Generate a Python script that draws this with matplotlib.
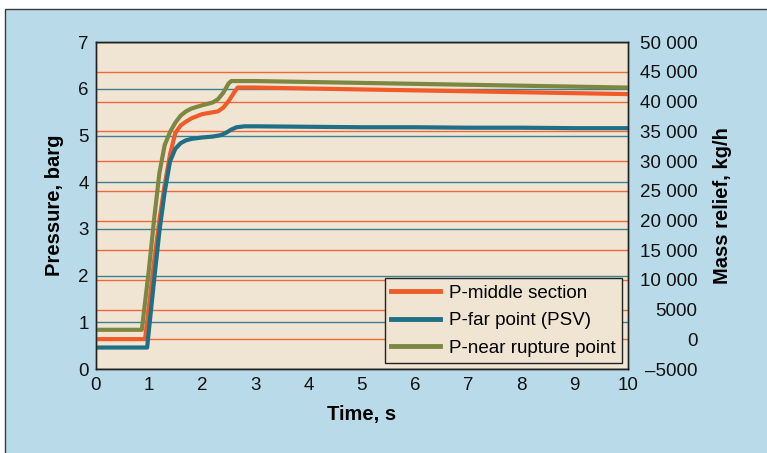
import matplotlib.pyplot as plt
from matplotlib.patches import Rectangle
from matplotlib.ticker import FixedLocator

plt.rcParams['font.family'] = ['Liberation Sans', 'DejaVu Sans']

# --- data ---
t_near = [0, 0.87, 1.0, 1.1, 1.2, 1.3, 1.4, 1.5, 1.6, 1.7, 1.8, 2.0, 2.2, 2.3, 2.4, 2.5, 2.55,
          3, 4, 5, 6, 7, 8, 9, 10]
p_near = [0.84, 0.84, 2.1, 3.2, 4.2, 4.8, 5.08, 5.28, 5.43, 5.52, 5.58, 5.65, 5.71, 5.78, 5.92, 6.12, 6.17,
          6.17, 6.15, 6.13, 6.11, 6.09, 6.07, 6.05, 6.03]

t_mid = [0, 0.93, 1.0, 1.1, 1.2, 1.3, 1.4, 1.5, 1.6, 1.7, 1.8, 2.0, 2.2, 2.3, 2.4, 2.5, 2.6, 2.67,
         3, 4, 5, 6, 7, 8, 9, 10]
p_mid = [0.64, 0.64, 1.3, 2.3, 3.2, 3.95, 4.6, 5.06, 5.22, 5.3, 5.37, 5.46, 5.5, 5.52, 5.6, 5.74, 5.92, 6.03,
         6.03, 6.01, 5.99, 5.97, 5.95, 5.93, 5.91, 5.89]

t_far = [0, 0.97, 1.0, 1.1, 1.2, 1.3, 1.4, 1.5, 1.6, 1.7, 1.8, 2.0, 2.2, 2.35, 2.45, 2.55, 2.65, 2.8,
         3, 4, 5, 6, 7, 8, 9, 10]
p_far = [0.46, 0.46, 0.8, 1.9, 2.95, 3.8, 4.45, 4.72, 4.84, 4.9, 4.93, 4.96, 4.98, 5.01, 5.06, 5.13, 5.18, 5.2,
         5.2, 5.19, 5.18, 5.18, 5.17, 5.17, 5.16, 5.16]

mass_ticks = [-5000, 0, 5000, 10000, 15000, 20000, 25000, 30000, 35000, 40000, 45000, 50000]
mass_labels = ['\u20135000', '0', '5000', '10 000', '15 000', '20 000', '25 000',
               '30 000', '35 000', '40 000', '45 000', '50 000']

# --- colours ---
BLUE_BG = '#b9dbe9'
BEIGE = '#f0e5d3'
ORANGE = '#f15a29'
TEAL = '#1f6f86'
OLIVE = '#7d8742'

fig = plt.figure(figsize=(7.67, 4.53), dpi=100, facecolor='white')
fig.patches.append(Rectangle((5 / 767, -0.01), 1.0, 1 - 9 / 453 + 0.01, transform=fig.transFigure,
                             facecolor=BLUE_BG, edgecolor='#3a3a3a', lw=1.0, zorder=-10))

ax2 = fig.add_axes([95.5 / 767, 1 - 369 / 453, (628 - 95.5) / 767, (369 - 42.3) / 453])
ax = ax2.twinx()
# pressure axis should sit on the left, mass axis on the right
ax.yaxis.tick_left()
ax.yaxis.set_label_position('left')
ax2.yaxis.tick_right()
ax2.yaxis.set_label_position('right')

ax2.set_facecolor(BEIGE)
ax.patch.set_visible(False)

# mass relief axis (right) + shared time axis
ax2.set_ylim(-5000, 50000)
ax2.yaxis.set_major_locator(FixedLocator(mass_ticks))
ax2.set_yticklabels(mass_labels)
ax2.grid(axis='y', color=ORANGE, lw=1.0, alpha=0.9)
ax2.set_xlim(0, 10)
ax2.set_xticks(range(0, 11))
ax2.tick_params(axis='y', length=0, pad=50, labelsize=13.5, colors='#111111')
ax2.tick_params(axis='x', length=0, pad=6, labelsize=13.5, colors='#111111')
for lab in ax2.get_yticklabels():
    lab.set_ha('right')
ax2.set_ylabel('Mass relief, kg/h', fontsize=14.5, fontweight='bold', labelpad=11)
ax2.set_xlabel('Time, s', fontsize=14.5, fontweight='bold', labelpad=8)

# pressure axis (left)
ax.plot(t_mid, p_mid, color=ORANGE, lw=3, label='P-middle section', solid_joinstyle='round')
ax.plot(t_far, p_far, color=TEAL, lw=3, label='P-far point (PSV)', solid_joinstyle='round')
ax.plot(t_near, p_near, color=OLIVE, lw=3, label='P-near rupture point', solid_joinstyle='round')

ax.set_ylim(0, 7)
ax.set_yticks(range(0, 8))
ax.yaxis.grid(True, color=TEAL, lw=1.0, alpha=0.85)
ax.xaxis.grid(True, color='#9a9a9a', lw=1.2)
ax.set_axisbelow(True)
ax.tick_params(axis='y', length=0, pad=5, labelsize=13.5, colors='#111111')
ax.set_ylabel('Pressure, barg', fontsize=14.5, fontweight='bold', labelpad=10)

for a in (ax, ax2):
    for sp in a.spines.values():
        sp.set_color('#222222')
        sp.set_linewidth(1.0)

leg = ax.legend(loc='lower right', fontsize=13.5, frameon=True, fancybox=False,
                facecolor=BEIGE, edgecolor='#222222', framealpha=1.0,
                borderaxespad=0.3, handlelength=2.6, handletextpad=0.5,
                labelspacing=0.55, borderpad=0.35)
leg.get_frame().set_linewidth(1.0)
for h in leg.get_lines():
    h.set_linewidth(3.5)

fig.savefig('out.png', dpi=100, facecolor=fig.get_facecolor())
